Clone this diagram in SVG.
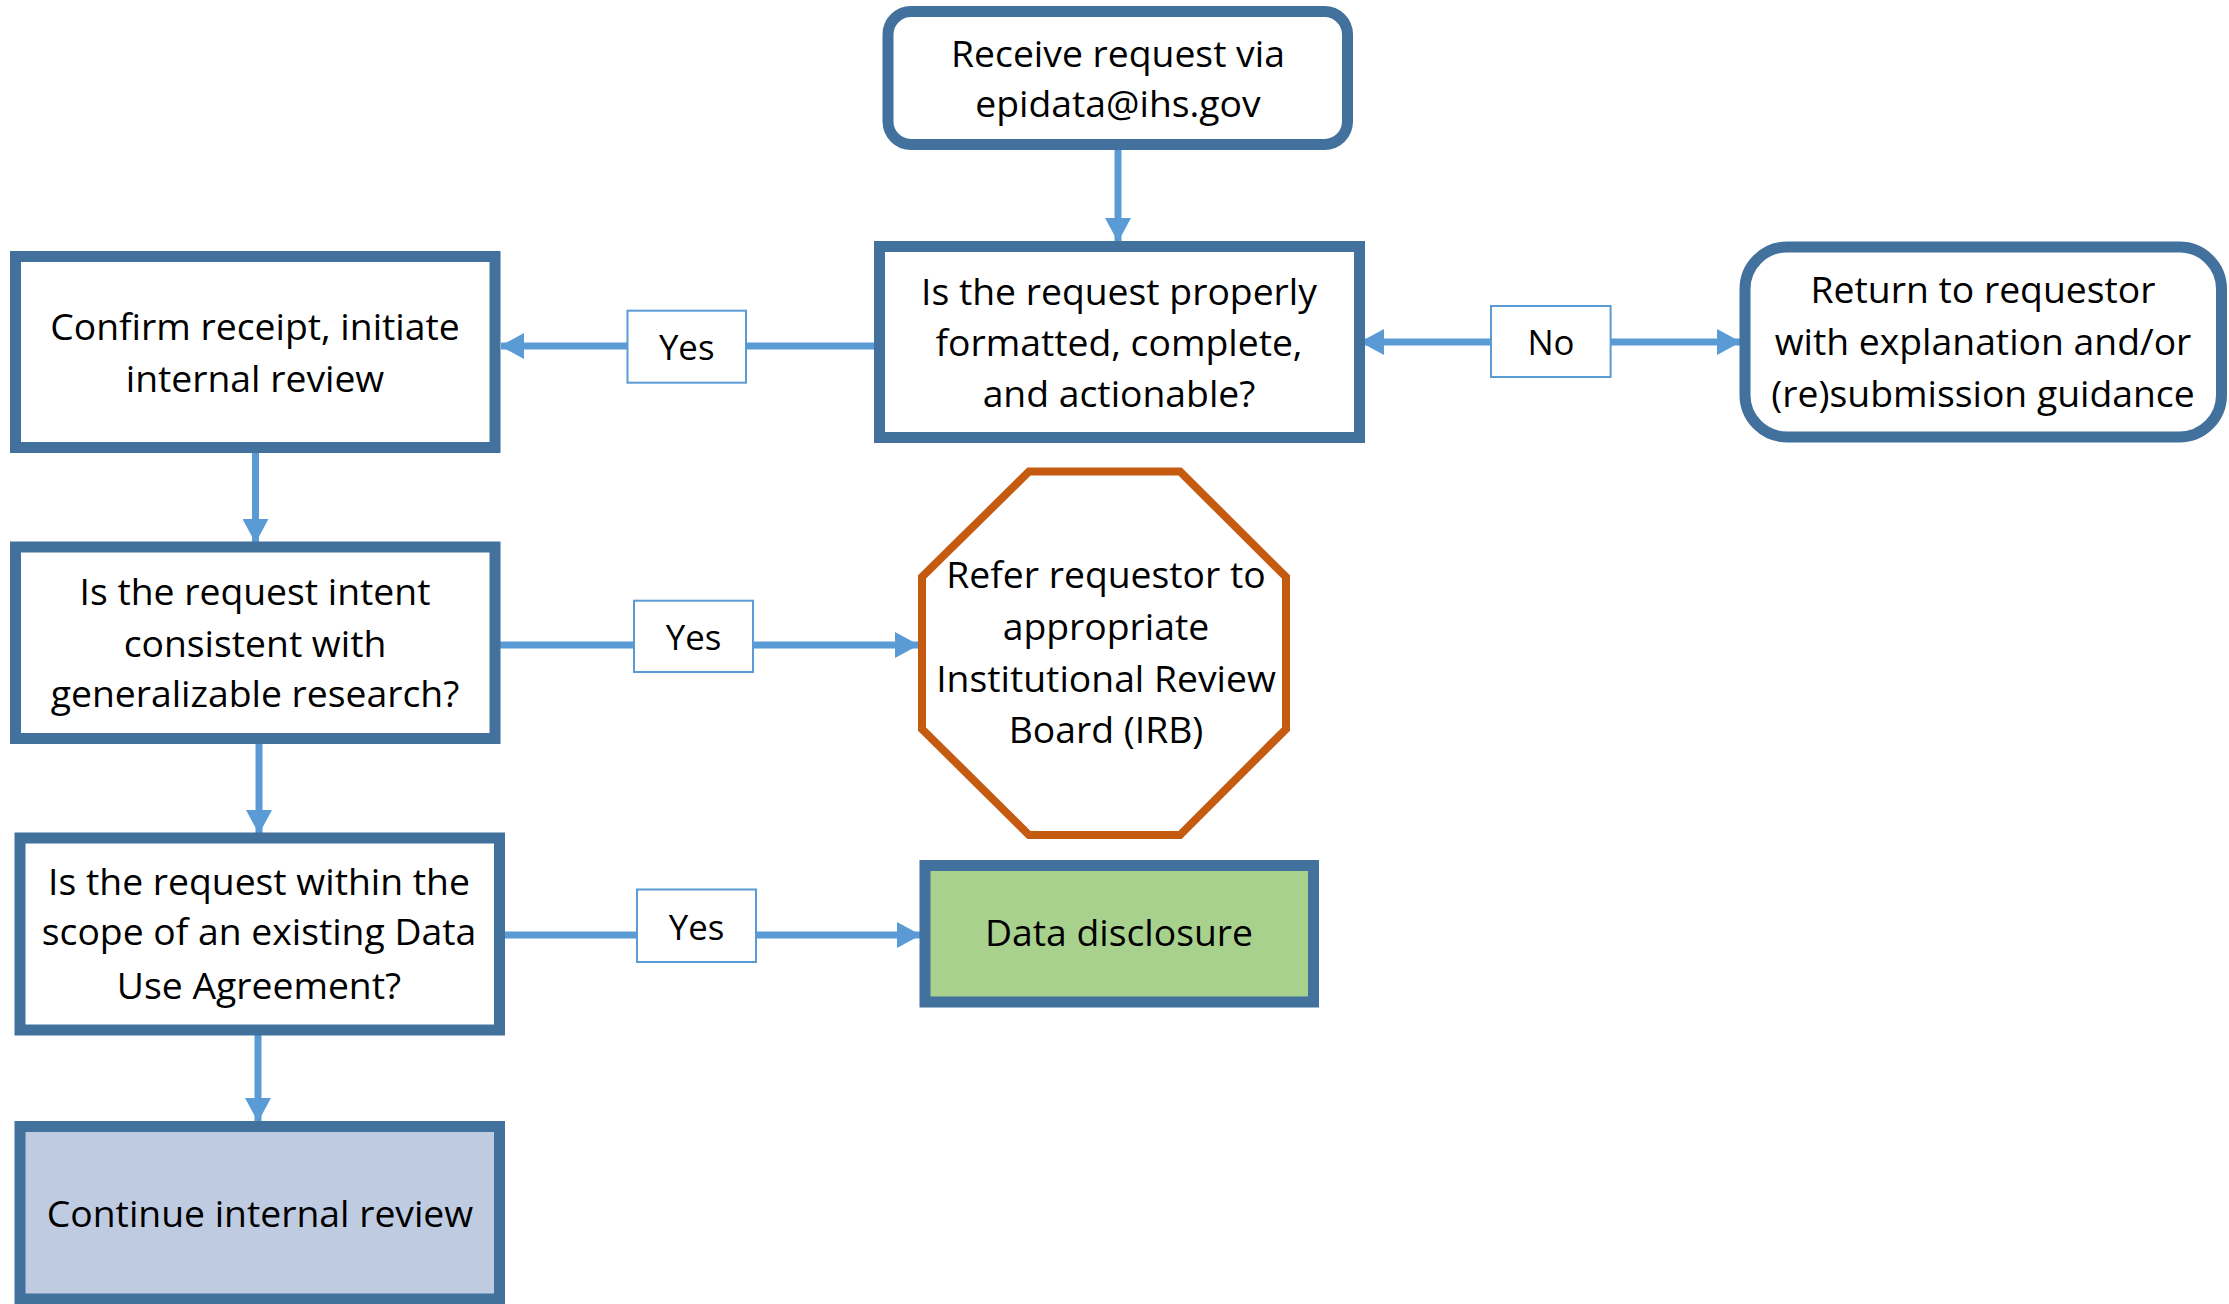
<svg xmlns="http://www.w3.org/2000/svg" width="2229" height="1304" viewBox="0 0 2229 1304">
<style>
.box{fill:#ffffff;stroke:#41719C;stroke-width:11}
.oct{fill:#ffffff;stroke:#C55A11;stroke-width:8;stroke-linejoin:miter}
.lbl{fill:#ffffff;stroke:#5B9BD5;stroke-width:2}
.t{font-family:"Open Sans","Liberation Sans",sans-serif;font-size:37.3px;fill:#000000;text-anchor:middle}
.ts{font-family:"Open Sans","Liberation Sans",sans-serif;font-size:34.8px;fill:#000000;text-anchor:middle}
.c{fill:none;stroke:#5B9BD5;stroke-width:7}
</style>
<defs>
<marker id="ah" markerUnits="userSpaceOnUse" markerWidth="24" markerHeight="26" viewBox="0 0 24 26" refX="23" refY="13" orient="auto-start-reverse">
<path d="M0,0 L24,13 L0,26 Z" fill="#5B9BD5"/>
</marker>
</defs>
<g id="connectors">
<line class="c" x1="1118" y1="150" x2="1118" y2="241" marker-end="url(#ah)"/>
<line class="c" x1="874" y1="346" x2="501" y2="346" marker-end="url(#ah)"/>
<line class="c" x1="1361" y1="342" x2="1740" y2="342" marker-start="url(#ah)" marker-end="url(#ah)"/>
<line class="c" x1="255.5" y1="452" x2="255.5" y2="542" marker-end="url(#ah)"/>
<line class="c" x1="500" y1="645" x2="918" y2="645" marker-end="url(#ah)"/>
<line class="c" x1="259" y1="743" x2="259" y2="833" marker-end="url(#ah)"/>
<line class="c" x1="505" y1="935" x2="920" y2="935" marker-end="url(#ah)"/>
<line class="c" x1="258" y1="1035" x2="258" y2="1121" marker-end="url(#ah)"/>
</g>
<g id="label-yes1"><rect class="lbl" x="627.5" y="310.7" width="118.5" height="72"/><text class="ts" x="686.7" y="359.5">Yes</text></g>
<g id="label-no"><rect class="lbl" x="1491" y="306" width="119.6" height="71"/><text class="ts" x="1551" y="354.5">No</text></g>
<g id="label-yes2"><rect class="lbl" x="634" y="600.7" width="119" height="71.3"/><text class="ts" x="693.5" y="649.5">Yes</text></g>
<g id="label-yes3"><rect class="lbl" x="637" y="889.5" width="119" height="72.5"/><text class="ts" x="696.5" y="939.5">Yes</text></g>
<g id="node-receive">
<rect class="box" x="888" y="11.5" width="459.5" height="133" rx="23" ry="23"/>
<text class="t" x="1118" y="67">Receive request via</text>
<text class="t" x="1118" y="117">epidata@ihs.gov</text>
</g>
<g id="node-q1">
<rect class="box" x="879.5" y="246.5" width="480" height="191"/>
<text class="t" x="1119" y="305">Is the request properly</text>
<text class="t" x="1119" y="356">formatted, complete,</text>
<text class="t" x="1119" y="407">and actionable?</text>
</g>
<g id="node-return">
<rect class="box" x="1745" y="247" width="476.5" height="190" rx="42" ry="42"/>
<text class="t" x="1983" y="303">Return to requestor</text>
<text class="t" x="1983" y="355">with explanation and/or</text>
<text class="t" x="1983" y="406.7">(re)submission guidance</text>
</g>
<g id="node-confirm">
<rect class="box" x="15.5" y="256.5" width="479.5" height="191"/>
<text class="t" x="255" y="340">Confirm receipt, initiate</text>
<text class="t" x="255" y="392">internal review</text>
</g>
<g id="node-q2">
<rect class="box" x="15.5" y="547" width="479.5" height="191.5"/>
<text class="t" x="255" y="605">Is the request intent</text>
<text class="t" x="255" y="656.7">consistent with</text>
<text class="t" x="255" y="706.7">generalizable research?</text>
</g>
<g id="node-irb">
<polygon class="oct" points="1029,471.5 1180,471.5 1286,577 1286,729 1180,835 1029,835 922,729 922,577"/>
<text class="t" x="1106" y="588">Refer requestor to</text>
<text class="t" x="1106" y="640">appropriate</text>
<text class="t" x="1106" y="692">Institutional Review</text>
<text class="t" x="1106" y="743">Board (IRB)</text>
</g>
<g id="node-q3">
<rect class="box" x="20" y="838" width="479.5" height="192"/>
<text class="t" x="259" y="895">Is the request within the</text>
<text class="t" x="259" y="945">scope of an existing Data</text>
<text class="t" x="259" y="998.6">Use Agreement?</text>
</g>
<g id="node-data">
<rect class="box" x="925" y="865.5" width="388.5" height="136.5" style="fill:#A9D18E"/>
<text class="t" x="1119" y="946.4">Data disclosure</text>
</g>
<g id="node-continue">
<rect class="box" x="20" y="1126.5" width="479.5" height="172.5" style="fill:#BFCBE0"/>
<text class="t" x="260" y="1226.5">Continue internal review</text>
</g>
</svg>
